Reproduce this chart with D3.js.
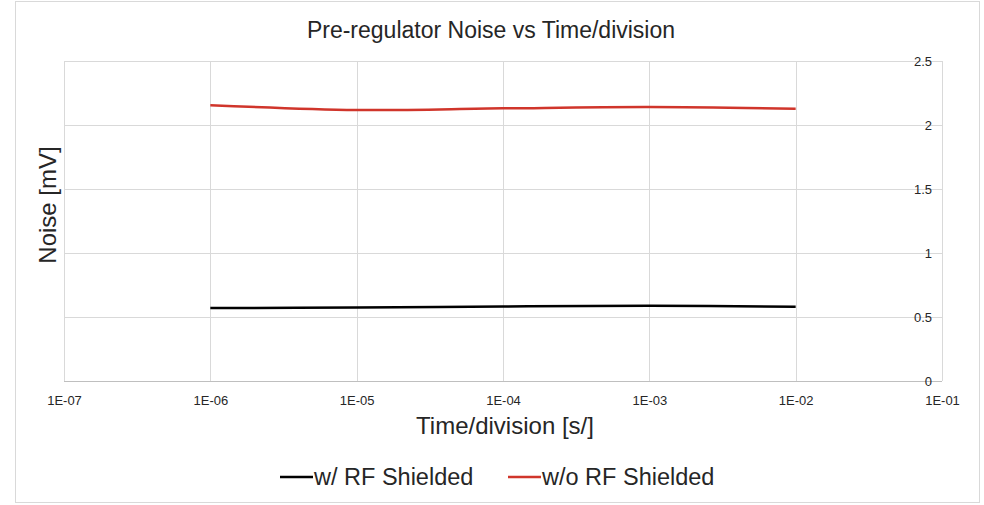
<!DOCTYPE html>
<html>
<head>
<meta charset="utf-8">
<script src="https://cdn.jsdelivr.net/npm/d3@7"></script>
<style>
  body { margin: 0; background: #fff; }
  svg text { font-family: "Liberation Sans", Arial, sans-serif; fill: #262626; }
</style>
</head>
<body>
<div id="chart"></div>
<script>
// data
const timeDiv = [1e-6, 1e-5, 1e-4, 1e-3, 1e-2]
const shielded = [0.57, 0.574, 0.582, 0.587, 0.58]
const unshielded = [2.155, 2.117, 2.13, 2.14, 2.127]
const xTicks = [1e-7, 1e-6, 1e-5, 1e-4, 1e-3, 1e-2, 1e-1]
const yTicks = [0, 0.5, 1, 1.5, 2, 2.5]
const seriesNames = ["w/ RF Shielded", "w/o RF Shielded"]
const seriesColors = ["#000000", "#d0352b"]

const width = 984, height = 505
const plot = {left: 64, right: 942, top: 61, bottom: 381}

const svg = d3.select("#chart").append("svg")
    .attr("width", width)
    .attr("height", height)

// chart frame
svg.append("rect")
    .attr("x", 15.5).attr("y", 1.5)
    .attr("width", 964).attr("height", 501)
    .attr("fill", "#fff")
    .attr("stroke", "#d9d9d9")

const x = d3.scaleLog()
    .domain([1e-7, 1e-1])
    .range([plot.left, plot.right])

const y = d3.scaleLinear()
    .domain([0, 2.5])
    .range([plot.bottom, plot.top])

// grid
svg.append("g")
    .selectAll("line.v")
    .data(xTicks)
    .join("line")
    .attr("x1", d => Math.round(x(d)) + 0.5)
    .attr("x2", d => Math.round(x(d)) + 0.5)
    .attr("y1", plot.top)
    .attr("y2", plot.bottom)
    .attr("stroke", "#d9d9d9")

svg.append("g")
    .selectAll("line.h")
    .data(yTicks)
    .join("line")
    .attr("x1", plot.left)
    .attr("x2", plot.right)
    .attr("y1", d => Math.round(y(d)) + 0.5)
    .attr("y2", d => Math.round(y(d)) + 0.5)
    .attr("stroke", d => d === 0 ? "#bfbfbf" : "#d9d9d9")

// x axis labels
const xAxis = d3.axisBottom(x)
    .tickValues(xTicks)
    .tickSize(0)
    .tickPadding(15)
    .tickFormat(d => "1E-" + String(Math.round(-Math.log10(d))).padStart(2, "0"))

svg.append("g")
    .attr("transform", `translate(0,${plot.bottom})`)
    .call(xAxis)
    .call(g => g.select(".domain").remove())
    .selectAll("text")
    .attr("font-size", 13)
    .attr("fill", "#333")

// y labels sit over the right end of the gridlines
const yAxis = d3.axisLeft(y)
    .tickValues(yTicks)
    .tickSize(0)
    .tickPadding(0)
    .tickFormat(d3.format("~g"))

svg.append("g")
    .attr("transform", `translate(932,0)`)
    .call(yAxis)
    .call(g => g.select(".domain").remove())
    .selectAll("text")
    .attr("font-size", 13)
    .attr("fill", "#333")

// series
const line = d3.line()
    .curve(d3.curveCatmullRom.alpha(0.5))
    .x((d, i) => x(timeDiv[i]))
    .y(d => y(d))

;[shielded, unshielded].forEach((s, i) => {
    svg.append("path")
        .datum(s)
        .attr("fill", "none")
        .attr("stroke", seriesColors[i])
        .attr("stroke-width", 2.5)
        .attr("d", line)
})

// titles
svg.append("text")
    .attr("x", 491).attr("y", 38)
    .attr("text-anchor", "middle")
    .attr("font-size", 23)
    .text("Pre-regulator Noise vs Time/division")

svg.append("text")
    .attr("x", 505).attr("y", 434)
    .attr("text-anchor", "middle")
    .attr("font-size", 24)
    .text("Time/division [s/]")

svg.append("text")
    .attr("transform", `translate(56,205) rotate(-90)`)
    .attr("text-anchor", "middle")
    .attr("font-size", 24)
    .text("Noise [mV]")

// legend
const legendX = [280, 508]
const legend = svg.append("g")
    .selectAll("g")
    .data(seriesNames)
    .join("g")
    .attr("transform", (d, i) => `translate(${legendX[i]},477)`)

legend.append("line")
    .attr("x1", 0).attr("x2", 33)
    .attr("stroke", (d, i) => seriesColors[i])
    .attr("stroke-width", 2.5)

legend.append("text")
    .attr("x", 34).attr("y", 8)
    .attr("font-size", 23.5)
    .text(d => d)
</script>
</body>
</html>
